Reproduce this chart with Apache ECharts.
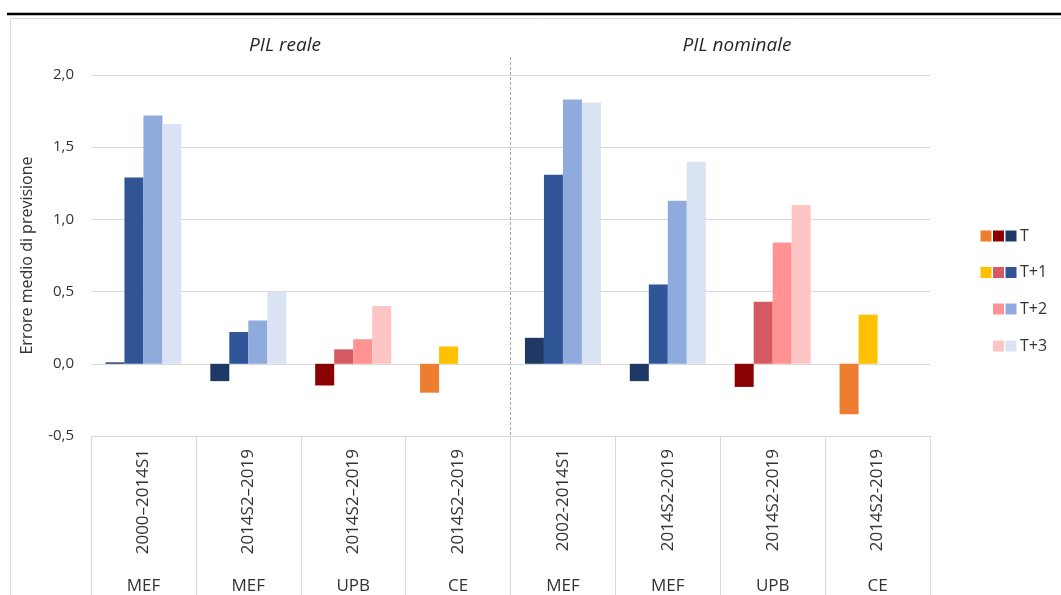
<!DOCTYPE html>
<html><head><meta charset="utf-8">
<script src="https://cdn.jsdelivr.net/npm/echarts@6/dist/echarts.min.js"></script>
<style>html,body{margin:0;padding:0;background:#fff}#c{width:1061px;height:595px}</style>
</head><body><div id="c"></div>
<script>
// ---- data ----
const periods = ['2000–2014S1','2014S2–2019','2014S2–2019','2014S2–2019','2002-2014S1','2014S2-2019','2014S2-2019','2014S2-2019'];
const sources = ['MEF','MEF','UPB','CE','MEF','MEF','UPB','CE'];
const panelTitles = ['PIL reale','PIL nominale'];
const seriesNames = ['T','T+1','T+2','T+3'];
const valT  = [0.01, -0.12, -0.15, -0.20, 0.18, -0.12, -0.16, -0.35];
const valT1 = [1.29,  0.22,  0.10,  0.12, 1.31,  0.55,  0.43,  0.34];
const valT2 = [1.72,  0.30,  0.17,  null, 1.83,  1.13,  0.84,  null];
const valT3 = [1.66,  0.50,  0.40,  null, 1.81,  1.40,  1.10,  null];
const yMin = -0.5, yMax = 2.0, yStep = 0.5;
const yAxisName = 'Errore medio di previsione';

// ---- styles ----
const FONT = '"Open Sans", "Liberation Sans", sans-serif';
const TXT = '#333333';
const palette = {
  MEF: ['#203864','#2F5597','#8FAADC','#DAE3F3'],
  UPB: ['#8B0000','#D65A64','#FF9393','#FFC5C5'],
  CE:  ['#ED7D31','#FFC000','#FFC000','#FFC000']
};
const legendSources = [['CE','UPB','MEF'],['CE','UPB','MEF'],['UPB','MEF'],['UPB','MEF']];

const allVals = [valT, valT1, valT2, valT3];
const series = seriesNames.map((name, k) => ({
  name, type: 'bar', barWidth: 19, barGap: '0%',
  data: allVals[k].map((v, i) => ({ value: v, itemStyle: { color: palette[sources[i]][k] } }))
}));

// frame, separators, panel titles and legend via graphic
const graphic = [];
graphic.push({ type: 'rect', shape: { x: 10.5, y: 18.5, width: 1100, height: 700 }, style: { fill: 'none', stroke: '#D9D9D9', lineWidth: 1 }, silent: true });
graphic.push({ type: 'line', shape: { x1: 7, y1: 14, x2: 1061, y2: 14 }, style: { stroke: '#000', lineWidth: 2.6 }, silent: true });
graphic.push({ type: 'line', shape: { x1: 510.5, y1: 57, x2: 510.5, y2: 455 }, style: { stroke: '#A6A6A6', lineWidth: 1, lineDash: [3, 2] }, silent: true });
const titleX = [285, 737];
panelTitles.forEach((t, i) => graphic.push({ type: 'text', x: titleX[i], y: 46,
  style: { text: t, fontSize: 19, fontStyle: 'italic', fontFamily: FONT, fill: '#262626', align: 'center', verticalAlign: 'middle', textAlign: 'center', textVerticalAlign: 'middle' } }));
const legY = [236, 272.5, 309, 346];
seriesNames.forEach((name, r) => {
  const srcs = legendSources[r];
  srcs.forEach((s, j) => {
    const x = 1018 - (srcs.length - j) * 12.5;
    graphic.push({ type: 'rect', shape: { x: x, y: legY[r] - 5.5, width: 11, height: 11 }, style: { fill: palette[s][r] }, silent: true });
  });
  graphic.push({ type: 'text', x: 1020, y: legY[r], style: { text: name, fontSize: 16, fontFamily: FONT, fill: TXT, align: 'left', verticalAlign: 'middle', textAlign: 'left', textVerticalAlign: 'middle' } });
});

const chart = echarts.init(document.getElementById('c'), null, { renderer: 'canvas' });
chart.setOption({
  animation: false,
  backgroundColor: '#fff',
  textStyle: { fontFamily: FONT },
  grid: { left: 91, right: 131, top: 75, bottom: 157, containLabel: false },
  xAxis: [{
    type: 'category', data: periods, position: 'bottom',
    axisLine: { show: true, onZero: false, lineStyle: { color: '#D9D9D9', width: 1 } },
    axisTick: { show: true, interval: 0, length: 170, lineStyle: { color: '#D9D9D9', width: 1 } },
    axisLabel: { interval: 0, rotate: 90, fontSize: 17, margin: 13, color: TXT, fontFamily: FONT },
    splitLine: { show: false }
  }, {
    type: 'category', data: sources, position: 'bottom', offset: 134,
    axisLine: { show: false, onZero: false }, axisTick: { show: false },
    axisLabel: { interval: 0, fontSize: 17, margin: 8, color: TXT, fontFamily: FONT },
    splitLine: { show: false }
  }],
  yAxis: {
    type: 'value', min: yMin, max: yMax, interval: yStep,
    name: yAxisName, nameLocation: 'middle', nameRotate: 90, nameGap: 56,
    nameTextStyle: { fontSize: 16, color: TXT, fontFamily: FONT },
    axisLine: { show: false }, axisTick: { show: false },
    axisLabel: { fontSize: 15, color: TXT, margin: 17, fontFamily: FONT, formatter: v => v.toFixed(1).replace('.', ',') },
    splitLine: { lineStyle: { color: '#D9D9D9', width: 1 } }
  },
  series,
  graphic
});
</script></body></html>
